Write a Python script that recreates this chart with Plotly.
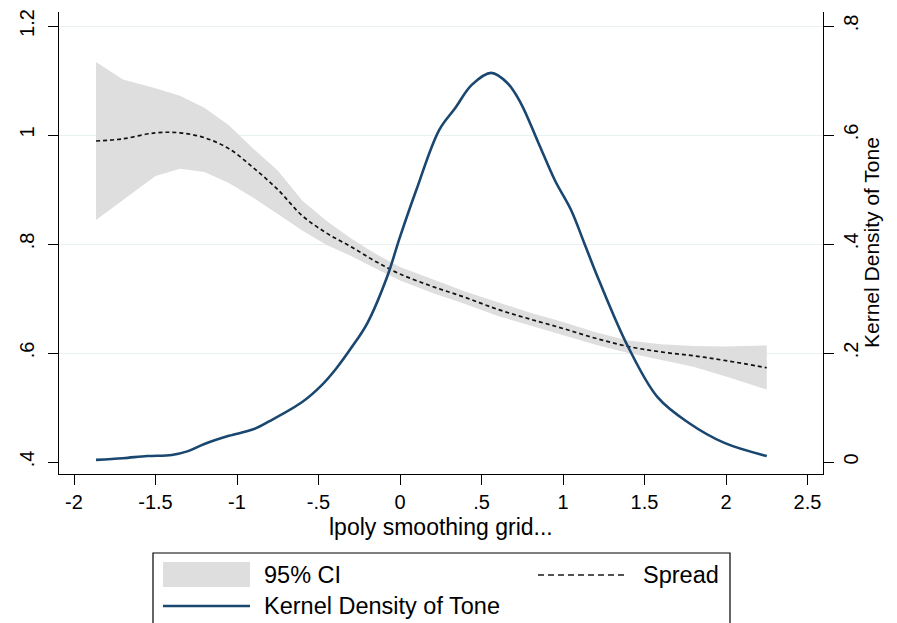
import plotly.graph_objects as go

# ---------------- data ----------------
grid_x = [-1.865, -1.7, -1.5, -1.35, -1.2, -1.05, -0.9, -0.75, -0.6, -0.45, -0.3, -0.15,
          0.0, 0.2, 0.4, 0.6, 0.8, 1.0, 1.2, 1.4, 1.6, 1.8, 2.0, 2.25]
spread = [0.989, 0.993, 1.004, 1.004, 0.995, 0.975, 0.940, 0.900, 0.852, 0.820, 0.795, 0.768,
          0.745, 0.722, 0.702, 0.680, 0.662, 0.645, 0.627, 0.612, 0.602, 0.595, 0.586, 0.573]
ci_upper = [1.134, 1.102, 1.086, 1.072, 1.050, 1.018, 0.975, 0.935, 0.880, 0.842, 0.810, 0.782,
            0.758, 0.735, 0.713, 0.693, 0.674, 0.657, 0.638, 0.623, 0.616, 0.613, 0.612, 0.614]
ci_lower = [0.844, 0.880, 0.925, 0.938, 0.932, 0.912, 0.885, 0.855, 0.825, 0.798, 0.778, 0.755,
            0.733, 0.710, 0.690, 0.668, 0.650, 0.632, 0.615, 0.600, 0.588, 0.575, 0.557, 0.533]

dens_x = [-1.865, -1.7, -1.55, -1.4, -1.3, -1.2, -1.05, -0.9, -0.8, -0.6, -0.48, -0.39, -0.3,
          -0.2, -0.08, 0.0, 0.1, 0.24, 0.34, 0.44, 0.56, 0.66, 0.74, 0.85, 0.95, 1.05, 1.13,
          1.22, 1.4, 1.58, 1.77, 1.99, 2.25]
density = [0.004, 0.007, 0.011, 0.013, 0.020, 0.033, 0.048, 0.060, 0.075, 0.110, 0.141, 0.172,
           0.209, 0.255, 0.339, 0.413, 0.499, 0.609, 0.650, 0.692, 0.714, 0.695, 0.659, 0.585,
           0.517, 0.462, 0.402, 0.334, 0.211, 0.119, 0.072, 0.035, 0.011]

x_ticks = [-2, -1.5, -1, -0.5, 0, 0.5, 1, 1.5, 2, 2.5]
x_tick_text = ["-2", "-1.5", "-1", "-.5", "0", ".5", "1", "1.5", "2", "2.5"]
yl_ticks = [0.4, 0.6, 0.8, 1.0, 1.2]
yl_tick_text = [".4", ".6", ".8", "1", "1.2"]
yr_ticks = [0, 0.2, 0.4, 0.6, 0.8]
yr_tick_text = ["0", ".2", ".4", ".6", ".8"]

legend_labels = ["95% CI", "Spread", "Kernel Density of Tone"]
x_title = "lpoly smoothing grid..."
yr_title = "Kernel Density of Tone"

# ---------------- style ----------------
OFF = 8                      # page body margin of the html page
W, H = 897 - OFF, 623 - OFF  # figure size
# plot area in screen pixels
SX0, SX1, SY0, SY1 = 59, 823, 12, 474
ML, MR = SX0 - OFF, W - (SX1 - OFF)
MT, MB = SY0 - OFF, H - (SY1 - OFF)
PW, PH = SX1 - SX0, SY1 - SY0
FONT = "Liberation Sans, Arial, Helvetica, sans-serif"
NAVY = "#1a476f"
BAND = "#dedede"
GRID = "#e8f0f2"

def px(x):
    return (x - SX0) / PW

def py(y):
    return (SY1 - y) / PH

fig = go.Figure()
# invisible trace carrying the grid axis
fig.add_trace(go.Scatter(x=[None], y=[None], yaxis="y3", showlegend=False, hoverinfo="skip"))
fig.add_trace(go.Scatter(x=grid_x, y=ci_lower, mode="lines", line=dict(width=0, color=BAND),
                         hoverinfo="skip", showlegend=False))
fig.add_trace(go.Scatter(x=grid_x, y=ci_upper, mode="lines", line=dict(width=0, color=BAND),
                         fill="tonexty", fillcolor=BAND, name=legend_labels[0], showlegend=False))
fig.add_trace(go.Scatter(x=grid_x, y=spread, mode="lines", name=legend_labels[1],
                         line=dict(color="#111111", width=1.7, dash="4px,3px", shape="spline"),
                         showlegend=False))
fig.add_trace(go.Scatter(x=dens_x, y=density, mode="lines", name=legend_labels[2], yaxis="y2",
                         line=dict(color=NAVY, width=2.6, shape="spline", smoothing=1.0),
                         showlegend=False))

fig.update_layout(
    width=W, height=H,
    margin=dict(l=ML, r=MR, t=MT, b=MB, pad=0, autoexpand=False),
    paper_bgcolor="white", plot_bgcolor="white",
    font=dict(family=FONT, color="#000", size=20),
    xaxis=dict(range=[-2.092, 2.595], tickvals=x_ticks, ticktext=x_tick_text, automargin=False,
               showgrid=False, zeroline=False, showline=True, linecolor="#000", linewidth=1,
               ticks="outside", ticklen=10, tickcolor="#000", tickfont=dict(size=20)),
    yaxis=dict(range=[0.378, 1.2257], tickvals=yl_ticks, ticktext=yl_tick_text, tickangle=-90,
               automargin=False, ticklabelstandoff=6,
               showgrid=False, zeroline=False, showline=True, linecolor="#000", linewidth=1,
               ticks="outside", ticklen=10, tickcolor="#000", tickfont=dict(size=20)),
    yaxis3=dict(range=[0.378, 1.2257], tickvals=yl_ticks[1:], overlaying="y", automargin=False,
                showticklabels=False, showgrid=True, gridcolor=GRID, gridwidth=1,
                zeroline=False, showline=False, ticks=""),
    yaxis2=dict(range=[-0.022, 0.8257], tickvals=yr_ticks, ticktext=yr_tick_text, tickangle=-90,
                overlaying="y", side="right", showgrid=False, zeroline=False, automargin=False,
                showline=True, linecolor="#000", linewidth=1,
                ticks="outside", ticklen=10, tickcolor="#000", tickfont=dict(size=20)),
    showlegend=False,
)

annotations = [
    dict(x=px(441), y=py(527), xref="paper", yref="paper", text=x_title, showarrow=False,
         xanchor="center", yanchor="middle", font=dict(size=23)),
    dict(x=px(871), y=py(243), xref="paper", yref="paper", text=yr_title, showarrow=False,
         textangle=-90, xanchor="center", yanchor="middle", font=dict(size=21)),
    dict(x=px(262), y=py(575), xref="paper", yref="paper", text=legend_labels[0], showarrow=False,
         xanchor="left", yanchor="middle", font=dict(size=23.5)),
    dict(x=px(641), y=py(575), xref="paper", yref="paper", text=legend_labels[1], showarrow=False,
         xanchor="left", yanchor="middle", font=dict(size=23.5)),
    dict(x=px(262), y=py(606), xref="paper", yref="paper", text=legend_labels[2], showarrow=False,
         xanchor="left", yanchor="middle", font=dict(size=23.5)),
]
shapes = [
    dict(type="rect", xref="paper", yref="paper", x0=px(153), x1=px(730), y0=py(553), y1=py(640),
         line=dict(color="#000", width=1.2), fillcolor="rgba(0,0,0,0)", layer="above"),
    dict(type="rect", xref="paper", yref="paper", x0=px(163), x1=px(250), y0=py(562), y1=py(587),
         line=dict(width=0), fillcolor=BAND),
    dict(type="line", xref="paper", yref="paper", x0=px(538), x1=px(628), y0=py(575), y1=py(575),
         line=dict(color="#1a1a1a", width=1.4, dash="6px,4px")),
    dict(type="line", xref="paper", yref="paper", x0=px(163), x1=px(250), y0=py(606), y1=py(606),
         line=dict(color=NAVY, width=2.6)),
]
fig.update_layout(annotations=annotations, shapes=shapes)

fig.write_html("out.html")
